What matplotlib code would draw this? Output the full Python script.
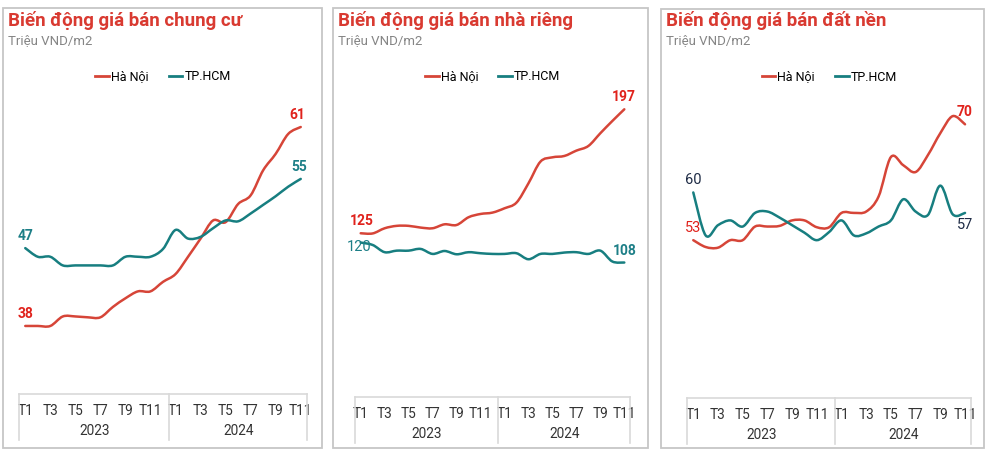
import matplotlib
matplotlib.use('Agg')
import matplotlib.pyplot as plt
import numpy as np
from matplotlib.path import Path
from matplotlib.patches import PathPatch, Rectangle
from matplotlib.lines import Line2D
import matplotlib.transforms as mtransforms

plt.rcParams['font.family'] = ['Roboto', 'DejaVu Sans']

MONTHS = ['T1', 'T2', 'T3', 'T4', 'T5', 'T6', 'T7', 'T8', 'T9', 'T10', 'T11', 'T12',
          'T1', 'T2', 'T3', 'T4', 'T5', 'T6', 'T7', 'T8', 'T9', 'T10', 'T11']
YEARS = ['2023', '2024']
SERIES = ['Hà Nội', 'TP.HCM']
TITLES = ['Biến động giá bán chung cư', 'Biến động giá bán nhà riêng', 'Biến động giá bán đất nền']
UNIT = 'Triệu VND/m2'

# chung cu
apt_hn = [38, 38, 38, 39.1, 39.1, 39, 39, 40.2, 41.2, 42, 42, 43.1,
          44, 46, 48.1, 50.2, 50, 52.1, 53.1, 56, 57.9, 60.2, 61]
apt_hcm = [47, 46, 46, 45, 45, 45, 45, 45, 46, 46, 46, 46.9,
           49.1, 48.1, 48.3, 49.3, 50.2, 50.1, 51, 52, 53, 54.1, 55]
# nha rieng
house_hn = [125, 124.9, 127.9, 129.3, 129.3, 128.3, 127.9, 130.2, 129.8, 134.3, 136.2, 137,
            139.5, 142.8, 154, 166.6, 169.1, 169.9, 173, 175.7, 183.1, 190.2, 197]
house_hcm = [119.6, 118.2, 114, 114.9, 114.9, 115.9, 113, 114.7, 112.8, 114, 113.4, 113,
             113, 113.4, 109.9, 113, 113, 113.8, 114, 113, 114.9, 108.6, 108]
# dat nen
land_hn = [53, 52, 51.9, 53, 53, 55, 55, 55.1, 55.9, 55.9, 54.9, 54.9,
           57, 57, 57.2, 59.4, 65.2, 64, 63, 65.5, 68.7, 71.2, 70]
land_hcm = [60, 53.7, 55.2, 55.9, 55, 57, 57.2, 56.3, 55.2, 54.1, 53, 54.2,
            55.9, 53.7, 54, 55, 55.9, 59, 57.2, 56.7, 61, 56.8, 57]

HN_COLOR = '#d64538'
HCM_COLOR = '#177e80'
LBL_RED = '#e0221c'
LBL_TEAL = '#1d7f87'
LBL_DARK = '#1e2b45'

W, H = 994, 458
fig = plt.figure(figsize=(W / 100, H / 100), dpi=100)
fig.patch.set_facecolor('white')


def frect(x0, y0, x1, y1):
    return [x0 / W, 1 - y1 / H, (x1 - x0) / W, (y1 - y0) / H]


def smooth_path(xs, ys):
    # bezier curve through the points (catmull-rom style), like excel's smoothed line
    xs = np.asarray(xs, float)
    ys = np.asarray(ys, float)
    n = len(xs)
    verts = [(xs[0], ys[0])]
    codes = [Path.MOVETO]
    for i in range(n - 1):
        p0 = (xs[max(i - 1, 0)], ys[max(i - 1, 0)])
        p1 = (xs[i], ys[i])
        p2 = (xs[i + 1], ys[i + 1])
        p3 = (xs[min(i + 2, n - 1)], ys[min(i + 2, n - 1)])
        c1 = (p1[0] + (p2[0] - p0[0]) / 6, p1[1] + (p2[1] - p0[1]) / 6)
        c2 = (p2[0] - (p3[0] - p1[0]) / 6, p2[1] - (p3[1] - p1[1]) / 6)
        verts += [c1, c2, p2]
        codes += [Path.CURVE4] * 3
    return Path(verts, codes)


panels = [
    dict(box=(3, 8, 322, 448), ax=(19, 95, 307, 394.3), ylim=(30.1, 64.7),
         hn=apt_hn, hcm=apt_hcm,
         labels=[('38', 'hn', 0, (0, 12), LBL_RED, 'bold'),
                 ('47', 'hcm', 0, (0, 12), LBL_TEAL, 'bold'),
                 ('61', 'hn', 22, (-3, 12), LBL_RED, 'bold'),
                 ('55', 'hcm', 22, (-2, 12), LBL_TEAL, 'bold')]),
    dict(box=(333, 8, 648, 448), ax=(354.7, 95, 630.3, 397), ylim=(29.9, 205.3),
         hn=house_hn, hcm=house_hcm,
         labels=[('125', 'hn', 0, (1, 12), LBL_RED, 'bold'),
                 ('120', 'hcm', 0, (-2, -4), LBL_TEAL, 'normal'),
                 ('197', 'hn', 22, (0, 12), LBL_RED, 'bold'),
                 ('108', 'hcm', 22, (0, 12), LBL_TEAL, 'bold')]),
    dict(box=(661, 9, 984, 448), ax=(687.1, 95, 971.2, 398.3), ylim=(29.8, 74.3),
         hn=land_hn, hcm=land_hcm,
         labels=[('53', 'hn', 0, (0, 12), LBL_RED, 'normal'),
                 ('60', 'hcm', 0, (0, 12), LBL_DARK, 'normal'),
                 ('70', 'hn', 22, (0, 12), LBL_RED, 'bold'),
                 ('57', 'hcm', 22, (0, -12), LBL_DARK, 'normal')]),
]

x = np.arange(len(MONTHS))

for p, title in zip(panels, TITLES):
    bx0, by0, bx1, by1 = p['box']
    fig.add_artist(Rectangle((bx0 / W, 1 - by1 / H), (bx1 - bx0) / W, (by1 - by0) / H,
                             transform=fig.transFigure, fill=False,
                             edgecolor='#c6c6c6', lw=1.3))
    fig.text((bx0 + 5) / W, 1 - 21 / H, title, color='#d93a31', fontsize=13.5,
             fontweight='bold', va='center', ha='left')
    fig.text((bx0 + 5) / W, 1 - 41 / H, UNIT, color='#858585', fontsize=9.5,
             va='center', ha='left')

    ax0, ay0, ax1, ay1 = p['ax']
    ax = fig.add_axes(frect(ax0, ay0, ax1, ay1))
    ax.set_xlim(-0.5, len(MONTHS) - 0.5)
    ax.set_ylim(*p['ylim'])
    hpx = ay1 - ay0

    series = {'hn': p['hn'], 'hcm': p['hcm']}
    for key, color in [('hn', HN_COLOR), ('hcm', HCM_COLOR)]:
        ax.add_patch(PathPatch(smooth_path(x, series[key]), fill=False,
                               edgecolor=color, lw=1.8, capstyle='round',
                               joinstyle='round'))

    for txt, key, idx, off, col, wt in p['labels']:
        ax.annotate(txt, (x[idx], series[key][idx]), xytext=(off[0] * 0.72, off[1] * 0.72),
                    textcoords='offset points', ha='center', va='center',
                    color=col, fontweight=wt, fontsize=10 if wt == 'bold' else 10.5)

    for s in ['top', 'right', 'left']:
        ax.spines[s].set_visible(False)
    ax.spines['bottom'].set_color('#d9d9d9')
    ax.spines['bottom'].set_linewidth(1.2)
    ax.set_yticks([])
    ax.set_xticks(x[::2])
    ax.set_xticklabels(MONTHS[::2], fontsize=9.8, color='#333333')
    ax.tick_params(axis='x', length=0, pad=7)

    trans = mtransforms.blended_transform_factory(ax.transData, ax.transAxes)
    ybot = -46 / hpx
    for xv in [-0.5, 11.5, len(MONTHS) - 0.5]:
        ax.plot([xv, xv], [0, ybot], transform=trans, color='#d9d9d9', lw=1.2,
                clip_on=False)
    for yr, xc in zip(YEARS, [5.5, 17]):
        ax.text(xc, -37 / hpx, yr, transform=trans, ha='center', va='center',
                fontsize=9.8, color='#333333')

    handles = [Line2D([], [], color=HN_COLOR, lw=2), Line2D([], [], color=HCM_COLOR, lw=2)]
    ax.legend(handles, SERIES, loc='center', bbox_to_anchor=(0.5, 1 + (ay0 - 77) / hpx),
              ncol=2, frameon=False, fontsize=9, handlelength=1.1, handletextpad=0.15,
              columnspacing=1.6)

fig.savefig('out.png', dpi=100, facecolor='white')
